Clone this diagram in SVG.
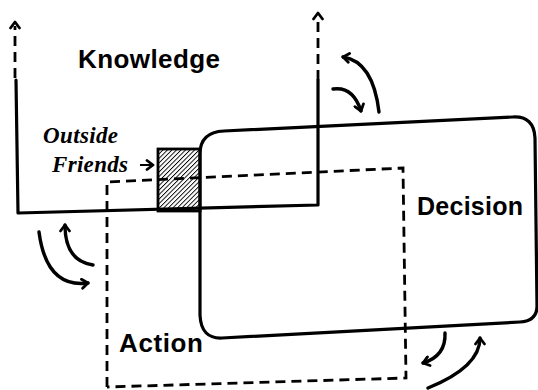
<svg xmlns="http://www.w3.org/2000/svg" width="538" height="390" viewBox="0 0 538 390">
<style>
.solid{fill:none;stroke:#000;stroke-width:3.2;stroke-linejoin:round;stroke-linecap:round}
.dash{fill:none;stroke:#000;stroke-width:2.8;stroke-dasharray:10,6}
.arc{fill:none;stroke:#000;stroke-width:3.4;stroke-linecap:round}
.lbl{font-family:"Liberation Sans",Arial,sans-serif;font-weight:bold;fill:#000}
.ital{font-family:"Liberation Serif","Times New Roman",serif;font-weight:bold;font-style:italic;fill:#000;font-size:23px}
</style>
<defs>
<marker id="chev" viewBox="-8 -6 10 12" markerWidth="10" markerHeight="12" refX="0" refY="0" orient="auto" markerUnits="userSpaceOnUse">
<path d="M-6,-4.5 L0,0 L-6,4.5" fill="none" stroke="#000" stroke-width="2.8" stroke-linecap="round" stroke-linejoin="round"/>
</marker>
<pattern id="hatch" width="3.2" height="3.2" patternUnits="userSpaceOnUse" patternTransform="rotate(45)">
<rect width="3.2" height="3.2" fill="#fff"/>
<line x1="0" y1="0" x2="0" y2="3.2" stroke="#000" stroke-width="1.8"/>
</pattern>
</defs>
<rect width="538" height="390" fill="#fff"/>
<g id="outside-friends">
<rect x="158" y="149" width="42" height="62" fill="url(#hatch)" stroke="#000" stroke-width="2.8"/>
<text class="ital" x="43" y="143" textLength="75">Outside</text>
<text class="ital" x="52" y="172" textLength="76">Friends</text>
</g>
<g id="action">
<path class="dash" d="M107,387 L107,182 L403,168 L406,378 L107,387"/>
<text class="lbl" x="119" y="352" font-size="26" textLength="84">Action</text>
</g>
<g id="decision">
<path class="solid" d="M200,315 L200,154 Q200,132 224,131 L513,117 Q534,116 535,138 L537,306 Q537,321 520,322 L222,338 Q201,339 200,315 Z"/>
<text class="lbl" x="417" y="215" font-size="25" textLength="106">Decision</text>
</g>
<g id="knowledge">
<path class="solid" d="M16,80 L18,213 L318,205 L318,80"/>
<path class="dash" d="M15,78 L15,26"/>
<path class="dash" d="M318,80 L318,16"/>
<text class="lbl" x="78" y="68" font-size="26" textLength="142">Knowledge</text>
</g>
<g id="connectors">
<path d="M15,40 L15,22" fill="none" stroke="none" marker-end="url(#chev)"/>
<path d="M318,30 L318,13" fill="none" stroke="none" marker-end="url(#chev)"/>
<path d="M140,165 L153,165" fill="none" stroke="#000" stroke-width="2" marker-end="url(#chev)"/>
<path class="arc" d="M379,112 Q373,61.5 343,57" marker-end="url(#chev)"/>
<path class="arc" d="M333,89 Q353,86 361,111" marker-end="url(#chev)"/>
<path class="arc" d="M39,232 Q46.5,288.5 88,283" marker-end="url(#chev)"/>
<path class="arc" d="M93,265 Q65,261 65,225" marker-end="url(#chev)"/>
<path class="arc" d="M445,333 Q446,356 423,363" marker-end="url(#chev)"/>
<path class="arc" d="M428,388 Q480,367 480,338" marker-end="url(#chev)"/>
</g>
</svg>
